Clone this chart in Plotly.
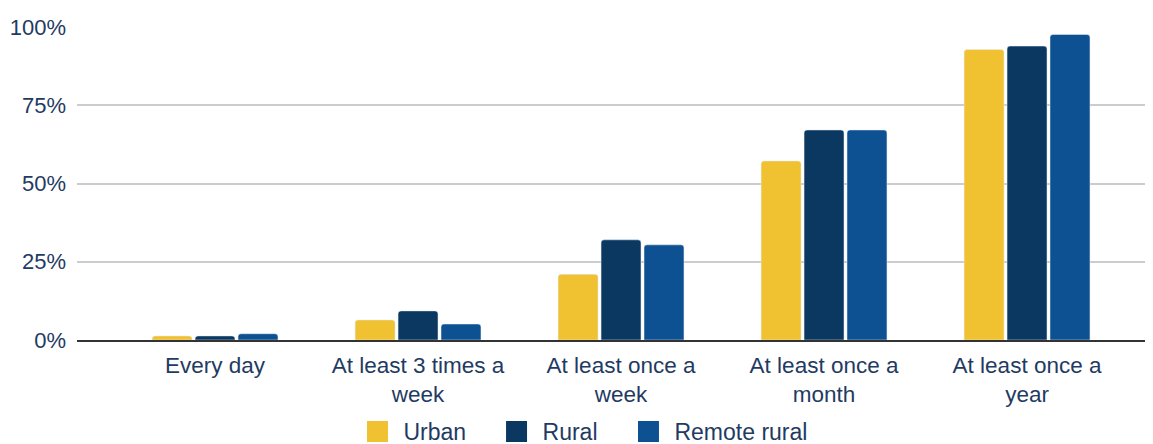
import plotly.graph_objects as go

categories = ["Every day", "At least 3 times a<br>week", "At least once a<br>week",
              "At least once a<br>month", "At least once a<br>year"]
urban = [0.013, 0.064, 0.21, 0.572, 0.928]
rural = [0.013, 0.093, 0.32, 0.671, 0.939]
remote_rural = [0.02, 0.051, 0.304, 0.671, 0.976]
series_names = ["Urban", "Rural", "Remote rural"]
colors = ["#F0C232", "#0B3861", "#0E5192"]
text_color = "#1F3B63"
legend_ids = ["legend", "legend2", "legend3"]
legend_x = [0.2532, 0.3815, 0.5032]

fig = go.Figure()
for name, vals, col, lid in zip(series_names, [urban, rural, remote_rural], colors, legend_ids):
    fig.add_trace(go.Bar(x=categories, y=vals, name=name, marker_color=col,
                         marker_cornerradius=3, showlegend=False))
    fig.add_trace(go.Scatter(x=[None], y=[None], mode="markers", name=name, legend=lid,
                             marker=dict(symbol="square", size=22, color=col,
                                         line=dict(color=col, width=8))))

legend_style = dict(orientation="h", xanchor="left", y=-0.361, yanchor="bottom",
                    font=dict(size=23, color=text_color), itemsizing="trace",
                    itemwidth=42, bgcolor="rgba(0,0,0,0)")

fig.update_layout(
    width=1153, height=452,
    margin=dict(l=69, r=0, t=19, b=120),
    paper_bgcolor="white", plot_bgcolor="white",
    font=dict(family="Liberation Sans, Arial, sans-serif", size=22, color=text_color),
    barmode="group", bargap=0.365, bargroupgap=0.07,
    legend=dict(x=legend_x[0], **legend_style),
    legend2=dict(x=legend_x[1], **legend_style),
    legend3=dict(x=legend_x[2], **legend_style),
)
fig.update_xaxes(range=[-0.68, 4.66], showline=True, linecolor="#333333", linewidth=1.5,
                 showgrid=False, ticks="", automargin=False, ticklabelstandoff=4,
                 tickfont=dict(size=22.5, color=text_color))
fig.update_yaxes(range=[0, 1.0], tickvals=[0, 0.25, 0.5, 0.75, 1.0], tickformat=".0%",
                 showgrid=True, gridcolor="#CCCCCC", gridwidth=1.5, zeroline=False,
                 automargin=False, ticklabelstandoff=10,
                 tickfont=dict(size=22, color=text_color))

fig.write_html("out.html")
